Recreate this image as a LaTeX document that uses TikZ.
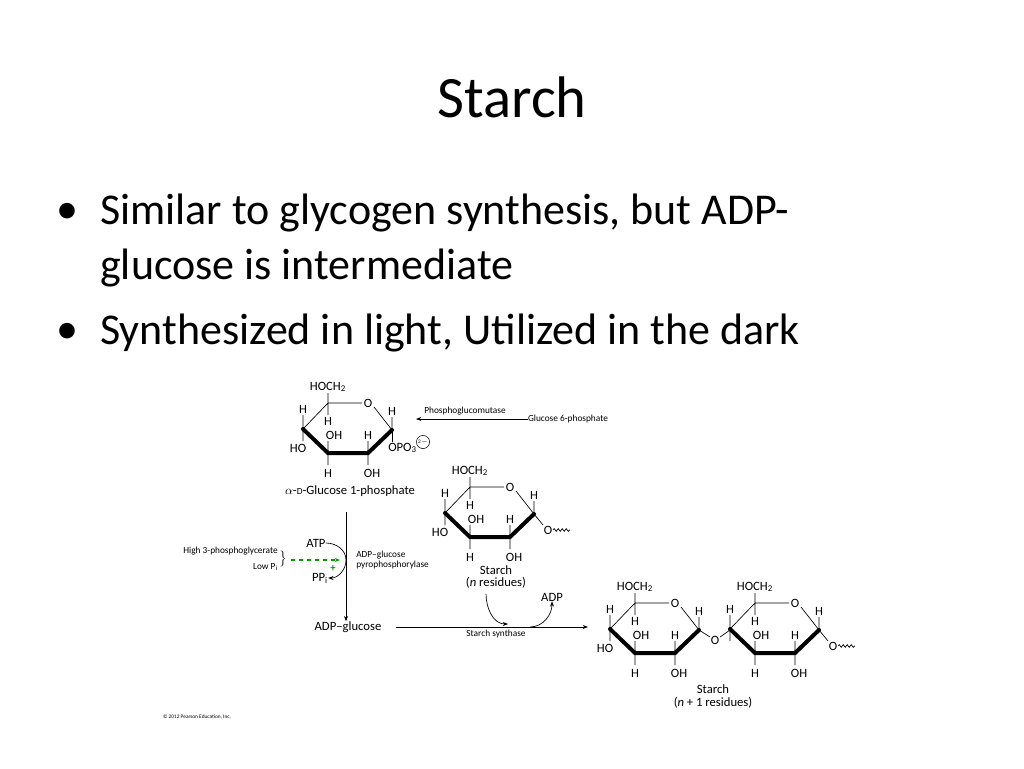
\documentclass[tikz,border=0pt]{standalone}
\usepackage{fontspec}
\setmainfont{Carlito}
\usetikzlibrary{positioning,decorations.pathmorphing,arrows.meta}
\tikzset{
    >={Stealth[length=4pt,width=3pt]},
    lbl/.style={inner sep=0pt,font=\fontsize{9.5}{10}\selectfont},
    small/.style={inner sep=0pt,font=\fontsize{7}{8}\selectfont},
    bullet/.style={font=\fontsize{33}{36}\selectfont,anchor=west,inner sep=0pt},
    ring/.style={line width=0.5pt},
    wedge/.style={line width=3pt,line cap=round},
}
\newcommand\sub[1]{\textsubscript{#1}}
% glucose ring, C5 at (#1,#2)
\newcommand\glcring[2]{%
  \begin{scope}[shift={(#1,#2)}]
    \node[lbl] at (0,-16) {HOCH\sub{2}};
    \node[lbl] at (40,0) {O};
    \draw[ring] (0,-10) -- (0,12) (0,0) -- (34,0) (46,4) -- (64,27) -- (64,14)
      (-25,12) -- (-25,38) (0,50) -- (0,38) (0,50) -- (0,62) (40,50) -- (40,38) (40,50) -- (40,62)
      (0,0) -- (-25,26);
    \draw[wedge] (-25,26) -- (0,50) -- (40,50) -- (64,27);
    \node[lbl] at (0,18) {H};
    \node[lbl] at (-25,6) {H};
    \node[lbl] at (6,32) {OH};
    \node[lbl] at (0,70) {H};
    \node[lbl] at (40,32) {H};
    \node[lbl] at (44,70) {OH};
    \node[lbl] at (64,8) {H};
  \end{scope}}
\newcommand\glcend[2]{% O~ at C1
  \begin{scope}[shift={(#1,#2)}]
    \draw[ring] (64,27) -- (73,38);
    \node[lbl] at (78,43) {O};
    \draw[ring,decorate,decoration={snake,amplitude=1pt,segment length=3pt}] (83,43) -- (100,43);
  \end{scope}}
\begin{document}
\begin{tikzpicture}[x=0.75pt,y=-0.75pt]
\useasboundingbox (0,0) rectangle (1024,768);
\node[font=\fontsize{44}{48}\selectfont] (title) at (512,97) {Starch};
\node[bullet] (b1) at (56,213) {•};
\node[bullet] (t1) at (100,213) {Similar to glycogen synthesis, but ADP-};
\node[bullet] (t2) at (100,268) {glucose is intermediate};
\node[bullet] (b2) at (56,333) {•};
\node[bullet] (t3) at (100,333) {Synthesized in light, Utilized in the dark};

% glucose 1-phosphate
\glcring{328}{403}
\node[lbl] (ho1) at (298,448) {HO};
\draw[ring] (392,430) -- (392,442);
\node[lbl,anchor=west] (opo) at (388,448) {OPO\sub{3}};
\node[draw,circle,inner sep=0.5pt,font=\fontsize{4}{4}\selectfont] (chg) at (423,442) {2$-$};
\node[lbl] (g1p) at (350,491) {$\alpha$-{\fontsize{7}{8}\selectfont D}-Glucose 1-phosphate};
\node[small] (g6p) at (568,419) {Glucose 6-phosphate};
\node[small] (pgm) at (465,411) {Phosphoglucomutase};
\coordinate (g1pr) at (416,419);
\draw[->,ring] (g6p.west) -- (g1pr);

% starch (n residues)
\glcring{470}{487}
\node[lbl] at (440,532) {HO};
\glcend{470}{487}
\node[lbl] (sn1) at (496,570) {Starch};
\node[lbl] (sn2) at (496,583) {(\textit{n} residues)};

% starch (n+1 residues)
\glcring{635}{603}
\node[lbl] at (605,648) {HO};
\draw[ring] (699,630) -- (710,637);
\node[lbl] (glyo) at (715,640) {O};
\draw[ring] (720,637) -- (730,630);
\glcring{755}{603}
\glcend{755}{603}
\node[lbl] (sm1) at (713,689) {Starch};
\node[lbl] (sm2) at (713,703) {(\textit{n} + 1 residues)};

% ADP-glucose pyrophosphorylase step
\coordinate (vtop) at (346,512);
\node[lbl] (adpg) at (348,627) {ADP--glucose};
\draw[->,ring] (vtop) -- (adpg.north -| vtop);
\node[lbl] (atp) at (316,543) {ATP};
\node[lbl] (ppi) at (320,578) {PP\sub{i}};
\draw[->,ring] (atp.east) to[out=0,in=90] (346,560) to[out=-90,in=0] (ppi.east);
\node[small,anchor=west,align=left] (enz) at (356,560) {ADP--glucose\\pyrophosphorylase};
\node[small,anchor=east] (hi) at (278,551) {High 3-phosphoglycerate};
\node[small,anchor=east] (lo) at (278,567) {Low P\sub{i}};
\node[inner sep=0pt] (brace) at (283,559) {$\left.\vphantom{\rule{0pt}{9pt}}\right\}$};
\draw[->,green!60!black,dashed,line width=1.3pt] (brace.east) ++(3,1) coordinate (gs) -- (340,560);
\node[green!60!black,font=\fontsize{8}{8}\selectfont\bfseries] (plus) at (333,569) {+};

% starch synthase step
\node[small] (ss) at (496,634) {Starch synthase};
\coordinate (prod) at (588,627);
\draw[->,ring] (adpg.east) ++(14,0) -- (prod);
\node[lbl] (adp) at (552,597) {ADP};
\draw[->,ring] (sn2.south) ++(-10,5) to[out=-90,in=180] (508,624);
\draw[->,ring] (530,627) to[out=0,in=-90] (adp.south);

\node[font=\fontsize{4}{4}\selectfont] (copy) at (197,717) {\textcopyright\ 2012 Pearson Education, Inc.};
\end{tikzpicture}
\end{document}
